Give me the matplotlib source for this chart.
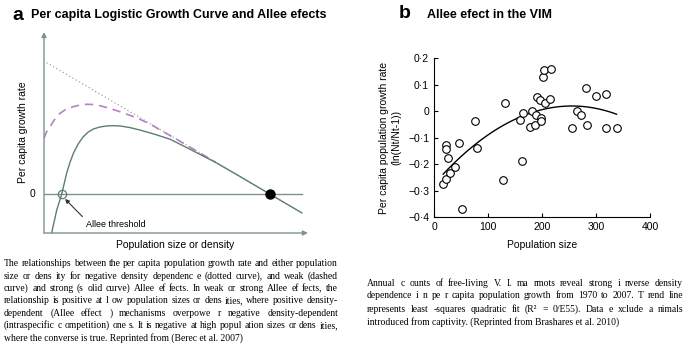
import numpy as np
import matplotlib
matplotlib.use('Agg')
import matplotlib.pyplot as plt

plt.rcParams['font.family'] = 'Liberation Sans'

# panel a: schematic curves (population size vs per capita growth rate)
logistic_n = [1.0, 99.2]
logistic_r = [0.99, -0.14]

weak_n = [0, 1.0, 2.3, 4.0, 6.15, 8.5, 11.3, 13.8, 16.4, 19.0, 21.5, 25, 29.2, 33, 36.9, 41, 45, 50, 55, 60, 66]
weak_r = [0.421, 0.47, 0.508, 0.56, 0.609, 0.640, 0.659, 0.671, 0.677, 0.675, 0.666, 0.648, 0.621, 0.594,
          0.564, 0.526, 0.48, 0.425, 0.368, 0.31, 0.241]

strong_n = [2.96, 4.9, 6.8, 8.7, 10.0, 11.3, 13.2, 15.1, 17.0, 19.0, 21.5, 24.1, 26.6, 29.2, 33.0, 36.9,
            42.5, 48.5, 54, 60, 66, 75, 87, 99.2]
strong_r = [-0.289, -0.118, 0.0, 0.158, 0.24, 0.308, 0.38, 0.433, 0.468, 0.491, 0.506, 0.514, 0.516, 0.514,
            0.502, 0.483, 0.452, 0.414, 0.36, 0.30, 0.24, 0.138, 0.0, -0.14]

allee_threshold = 6.8
carrying_capacity = 87

# panel b: VIM marmot counts vs growth rate
pop_size = [17, 23, 22, 22, 25, 30, 38, 46, 52, 76, 80, 128, 131, 159, 163, 165, 177, 181, 187, 189,
            190, 197, 198, 198, 202, 203, 206, 215, 217, 256, 265, 273, 281, 283, 300, 318, 319, 338]
growth = [-0.275, -0.254, -0.126, -0.142, -0.176, -0.233, -0.21, -0.118, -0.369, -0.038, -0.14, -0.258,
          0.03, -0.031, -0.189, -0.005, -0.058, 0.0, -0.053, -0.013, 0.054, 0.041, -0.025, -0.036, 0.13,
          0.155, 0.033, 0.047, 0.161, -0.064, 0.0, -0.013, 0.089, -0.052, 0.058, 0.064, -0.063, -0.063]

x_ticks = [0, 100, 200, 300, 400]
y_ticks = [-0.4, -0.3, -0.2, -0.1, 0, 0.1, 0.2]

caption_a = [
    "The relationships between the per capita population growth rate and either population",
    "size or dens ity for negative density dependenc e (dotted curve), and weak (dashed",
    "curve) and strong (s olid curve) Allee ef fects. In weak or strong Allee ef fects, the",
    "relationship is positive at l ow population sizes or dens ities, where positive density-",
    "dependent (Allee effect     ) mechanisms overpowe r negative density-dependent",
    "(intraspecific c ompetition) one s. It is negative at high popul ation sizes or dens ities,",
    "where the converse is true. Reprinted from (Berec et al. 2007)",
]
caption_b = [
    "Annual c ounts of free-living V. I. ma rmots reveal strong i nverse density",
    "dependence i n pe r capita population growth from 1970 to 2007. T rend line",
    "represents least -squares quadratic fit (R\u00b2 = 0/E55). Data e xclude a nimals",
    "introduced from captivity. (Reprinted from Brashares et al. 2010)",
]

W, H = 685, 346
fig = plt.figure(figsize=(W / 100, H / 100), dpi=100)


def px_box(left, top, right, bottom):
    return [left / W, 1 - bottom / H, (right - left) / W, (bottom - top) / H]


def justify(lines, x0, x1, y0, dy, **kw):
    renderer = fig.canvas.get_renderer()
    for i, line in enumerate(lines):
        y = 1 - (y0 + i * dy) / H
        if i == len(lines) - 1:
            fig.text(x0 / W, y, line, va='center', **kw)
            continue
        words = line.split()
        texts = [fig.text(0, y, w, va='center', **kw) for w in words]
        widths = [t.get_window_extent(renderer).width for t in texts]
        gap = ((x1 - x0) - sum(widths)) / (len(words) - 1)
        x = x0
        for t, w in zip(texts, widths):
            t.set_x(x / W)
            x += w + gap


# ---- panel a ----
axis_col = '#7f928c'
ax_a = fig.add_axes(px_box(44, 28.05, 309.2, 234.2))
ax_a.set_xlim(0, 102)
ax_a.set_ylim(-0.30, 1.25)
ax_a.axis('off')

arrow = dict(arrowstyle='-|>', color=axis_col, lw=1.0, mutation_scale=7, shrinkA=0, shrinkB=0)
ax_a.annotate('', xy=(0, 1.22), xytext=(0, -0.291), arrowprops=arrow)
ax_a.annotate('', xy=(101.5, -0.291), xytext=(0, -0.291), arrowprops=arrow)
ax_a.plot([0, 99.2], [0, 0], color=axis_col, lw=1.0)

ax_a.plot(logistic_n, logistic_r, color='#9aa6a2', lw=0.9, ls=(0, (1, 2)))
ax_a.plot(weak_n, weak_r, color='#b482c4', lw=1.2, ls=(0, (5, 3.5)))
ax_a.plot(strong_n, strong_r, color='#5e7d72', lw=1.0)

ax_a.plot([allee_threshold], [0], 'o', ms=6, mfc='none', mec='#5e7d72', mew=0.9)
ax_a.plot([carrying_capacity], [0], 'o', ms=6.5, color='black')

ax_a.annotate('Allee threshold', xy=(8.1, -0.035), xytext=(16.2, -0.23), fontsize=6.5,
              va='center', ha='left',
              arrowprops=dict(arrowstyle='-|>', color='#333333', lw=0.8, mutation_scale=6,
                              shrinkA=1, shrinkB=0, relpos=(0, 1)))
ax_a.text(-3.5, 0, '0', fontsize=7.5, ha='right', va='center')
ax_a.text(-8.2, 0.47, 'Per capita growth rate', fontsize=7.5, rotation=90, ha='center', va='center')
ax_a.text(50.4, -0.38, 'Population size or density', fontsize=7.5, ha='center', va='center')

fig.text(12 / W, 1 - 15 / H, 'a', fontsize=14, fontweight='bold', va='center')
fig.text(31 / W, 1 - 15 / H, 'Per capita Logistic Growth Curve and Allee efects', fontsize=9,
         fontweight='bold', va='center')

# ---- panel b ----
ax_b = fig.add_axes(px_box(434, 58.3, 650, 217.3))
ax_b.scatter(pop_size, growth, s=30, facecolors='white', edgecolors='black', linewidths=0.8, zorder=3)
coef = np.polyfit(pop_size, growth, 2)
xs = np.linspace(min(pop_size), max(pop_size), 100)
ax_b.plot(xs, np.polyval(coef, xs), color='black', lw=1.0, zorder=2)

ax_b.set_xlim(0, 400)
ax_b.set_ylim(-0.4, 0.2)
ax_b.set_xticks(x_ticks)
ax_b.set_yticks(y_ticks)


def dot_label(v):
    if abs(v) < 1e-9:
        return '0'
    return ('\u2212' if v < 0 else '') + f'{abs(v):.1f}'.replace('.', '\u00b7')


ax_b.set_yticklabels([dot_label(v) for v in y_ticks])
ax_b.tick_params(direction='in', length=3, width=0.8, labelsize=7.5)
for side in ['top', 'right']:
    ax_b.spines[side].set_visible(False)
for side in ['left', 'bottom']:
    ax_b.spines[side].set_linewidth(0.8)
ax_b.set_xlabel('Population size', fontsize=7.5, labelpad=6)
ax_b.set_ylabel('Per capita population growth rate\n(ln(Nt/Nt-1))', fontsize=7.5, labelpad=5)

fig.text(399 / W, 1 - 14 / H, 'b', fontsize=14, fontweight='bold', va='center')
fig.text(427 / W, 1 - 15 / H, 'Allee efect in the VIM', fontsize=9, fontweight='bold', va='center')

# ---- captions ----
justify(caption_a, 4, 338, 264, 12.3, fontsize=6.9, family='Liberation Serif')
justify(caption_b, 367, 683, 283, 13.0, fontsize=6.9, family='Liberation Serif')

fig.savefig('out.png', dpi=100)
